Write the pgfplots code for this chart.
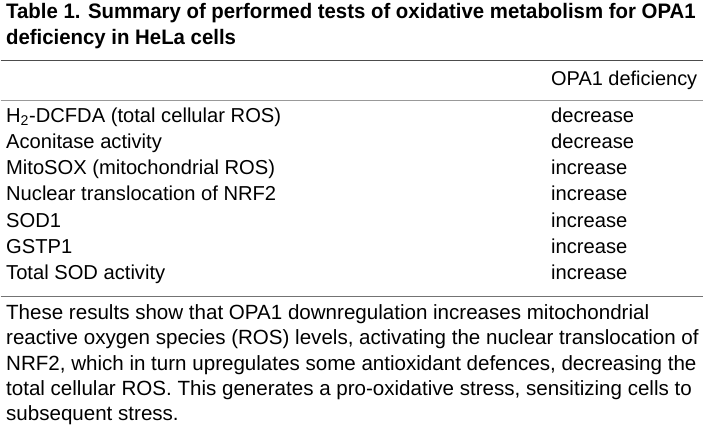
\documentclass[border=0pt]{standalone}
\usepackage{fontspec}
\setmainfont{Liberation Sans}
\usepackage{pgfplots}
\pgfplotsset{compat=1.18}
\definecolor{txt}{HTML}{111111}
\tikzset{
  rowfont/.style={font=\fontsize{20.2bp}{26bp}\selectfont},
  parfont/.style={font=\fontsize{20.6bp}{26bp}\selectfont},
}
\begin{document}
\begin{tikzpicture}
\begin{axis}[
  scale only axis, width=704bp, height=433bp,
  xmin=0, xmax=704, ymin=0, ymax=433, y dir=reverse,
  axis lines=none, xtick=\empty, ytick=\empty, clip=false,
  every node/.style={inner sep=0pt, text=txt},
]
% rules
\addplot[draw=black!70, line width=1.3bp] coordinates {(0,61) (704,61)};
\addplot[draw=black!40, line width=1.3bp] coordinates {(0,101) (704,101)};
\addplot[draw=black!55, line width=1.3bp] coordinates {(0,297.5) (704,297.5)};
% title
\node[anchor=base west, font=\fontsize{21bp}{27bp}\selectfont\bfseries] at (axis cs:2,18.8) {\scalebox{0.972}[1]{Table 1. Summary of performed tests of oxidative metabolism for OPA1}};
\node[anchor=base west, font=\fontsize{21bp}{27bp}\selectfont\bfseries] at (axis cs:2,45) {\scalebox{0.972}[1]{deficiency in HeLa cells}};
% header
\node[anchor=base west, font=\fontsize{20bp}{26bp}\selectfont] at (axis cs:548,86) {OPA1 deficiency};
% rows
\node[anchor=base west, rowfont] at (axis cs:2,123) {H\textsubscript{2}-DCFDA (total cellular ROS)};
\node[anchor=base west, rowfont] at (axis cs:2,149.2) {Aconitase activity};
\node[anchor=base west, rowfont] at (axis cs:2,175.4) {MitoSOX (mitochondrial ROS)};
\node[anchor=base west, rowfont] at (axis cs:2,201.6) {Nuclear translocation of NRF2};
\node[anchor=base west, rowfont] at (axis cs:2,227.8) {SOD1};
\node[anchor=base west, rowfont] at (axis cs:2,254) {GSTP1};
\node[anchor=base west, rowfont] at (axis cs:2,280.2) {Total SOD activity};
\node[anchor=base west, rowfont] at (axis cs:548,123) {decrease};
\node[anchor=base west, rowfont] at (axis cs:548,149.2) {decrease};
\node[anchor=base west, rowfont] at (axis cs:548,175.4) {increase};
\node[anchor=base west, rowfont] at (axis cs:548,201.6) {increase};
\node[anchor=base west, rowfont] at (axis cs:548,227.8) {increase};
\node[anchor=base west, rowfont] at (axis cs:548,254) {increase};
\node[anchor=base west, rowfont] at (axis cs:548,280.2) {increase};
% footnote paragraph
\node[anchor=base west, parfont] at (axis cs:2,320) {These results show that OPA1 downregulation increases mitochondrial};
\node[anchor=base west, parfont] at (axis cs:2,345.5) {reactive oxygen species (ROS) levels, activating the nuclear translocation of};
\node[anchor=base west, parfont] at (axis cs:2,371) {NRF2, which in turn upregulates some antioxidant defences, decreasing the};
\node[anchor=base west, parfont] at (axis cs:2,396.5) {total cellular ROS. This generates a pro-oxidative stress, sensitizing cells to};
\node[anchor=base west, parfont] at (axis cs:2,422) {subsequent stress.};
\end{axis}
\end{tikzpicture}
\end{document}
